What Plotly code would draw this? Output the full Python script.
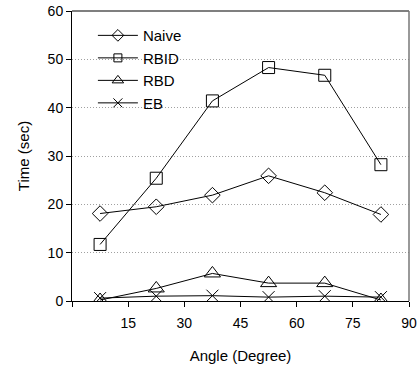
import plotly.graph_objects as go

angles = [7.5, 22.5, 37.5, 52.5, 67.5, 82.5]
naive = [18.1, 19.5, 21.9, 25.9, 22.4, 17.9]
rbid = [11.7, 25.4, 41.4, 48.3, 46.7, 28.2]
rbd = [0.2, 2.6, 5.7, 3.7, 3.7, 0.2]
eb = [0.6, 1.0, 1.1, 0.8, 1.0, 0.8]

x_ticks = [0, 15, 30, 45, 60, 75, 90]
x_ticktext = ["", "15", "30", "45", "60", "75", "90"]

series = [
    ("Naive", naive, "diamond-open", 12, 9),
    ("RBID", rbid, "square-open", 12, 8),
    ("RBD", rbd, "triangle-up-open", 14, 10),
    ("EB", eb, "x-thin-open", 12, 9),
]

fig = go.Figure()
for name, vals, sym, sz, lsz in series:
    fig.add_trace(go.Scatter(
        x=angles, y=vals, name=name, mode="lines+markers", showlegend=False,
        line=dict(color="black", width=1),
        marker=dict(symbol=sym, size=sz, color="black", line=dict(color="black", width=1)),
    ))
# legend entries with smaller symbols
for name, vals, sym, sz, lsz in series:
    fig.add_trace(go.Scatter(
        x=[None], y=[None], name=name, mode="lines+markers", showlegend=True,
        line=dict(color="black", width=1),
        marker=dict(symbol=sym, size=lsz, color="black", line=dict(color="black", width=1)),
    ))

font = dict(family="Liberation Sans, Arial, sans-serif", size=14, color="black")
fig.update_layout(
    width=418, height=368,
    margin=dict(l=72, r=9, t=11, b=67),
    paper_bgcolor="white", plot_bgcolor="white",
    font=font,
    showlegend=True,
    legend=dict(x=0.062, y=0.972, xanchor="left", yanchor="top", bgcolor="rgba(0,0,0,0)",
                itemwidth=40, font=dict(size=15), tracegroupgap=0),
    xaxis=dict(range=[0, 90], tickvals=x_ticks, ticktext=x_ticktext, ticks="outside", ticklen=5,
               tickcolor="black", showline=True, linecolor="black", linewidth=1,
               showgrid=False, zeroline=False, ticklabelstandoff=4, automargin=False,
               title=dict(text="Angle (Degree)", standoff=20, font=dict(size=15))),
    yaxis=dict(range=[0, 60], dtick=10, ticks="outside", ticklen=5, tickcolor="black",
               showline=True, linecolor="black", linewidth=1, automargin=False,
               showgrid=True, gridcolor="#a0a0a0", griddash="1px,2px", gridwidth=1,
               zeroline=False,
               title=dict(text="Time (sec)", standoff=14, font=dict(size=15))),
)
fig.add_shape(type="line", xref="paper", yref="paper", x0=0, x1=1, y0=1, y1=1,
              line=dict(color="#555555", width=1.5))
fig.add_shape(type="line", xref="paper", yref="paper", x0=1, x1=1, y0=0, y1=1,
              line=dict(color="#777777", width=1.5))
fig.write_html("out.html", config={"displayModeBar": False},
               post_script="document.body.style.margin='0';")
